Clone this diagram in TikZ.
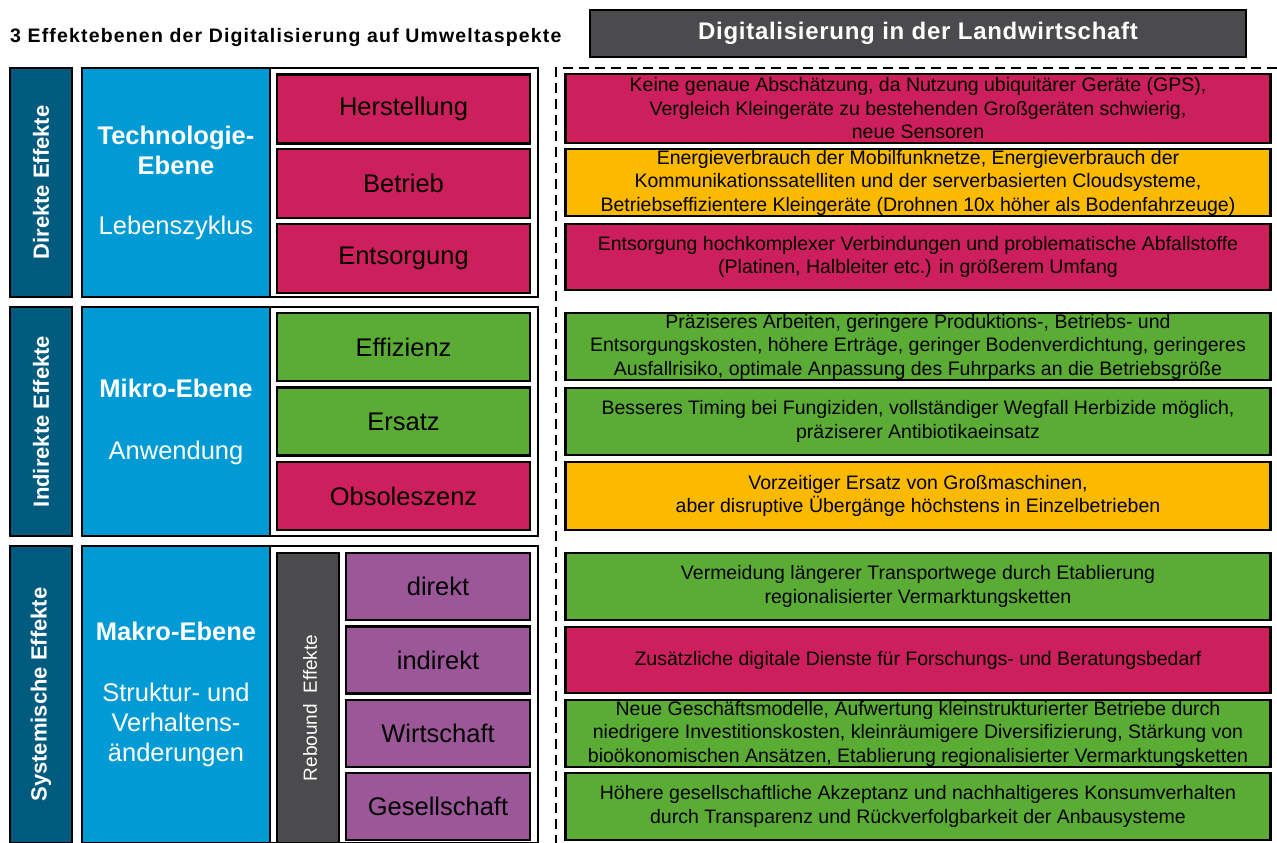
\documentclass[tikz,border=0pt]{standalone}
\usepackage{fontspec}
\setmainfont{Liberation Sans}
\definecolor{dkblue}{HTML}{005B7F}
\definecolor{ltblue}{HTML}{009BD5}
\definecolor{cred}{HTML}{CD1F5C}
\definecolor{cgreen}{HTML}{5BAC35}
\definecolor{cyellow}{HTML}{FBB900}
\definecolor{cpurple}{HTML}{9C5799}
\definecolor{cgrey}{HTML}{4B4B4D}
\begin{document}
\begin{tikzpicture}[x=1pt,y=-1pt,
  cell/.style={draw=black, line width=2.5pt, inner sep=0pt, align=center},
  frame/.style={draw=black, line width=2pt, fill=white, inner sep=0pt},
  vlabel/.style={cell, fill=dkblue, text=white, rotate=90, font=\bfseries\fontsize{22}{25}\selectfont},
  level/.style={cell, fill=ltblue, text=white, font=\fontsize{25.5}{30}\selectfont},
  item/.style={cell, font=\fontsize{25.5}{30}\selectfont},
  desc/.style={cell, minimum width=705pt, font=\fontsize{19.5}{23.5}\selectfont},
  dashline/.style={draw=black, line width=2pt, dash pattern=on 10pt off 6pt}
]
\useasboundingbox (0,0) rectangle (1277,843);
\fill[white] (0,0) rectangle (1277,843);

% title and header
\node[anchor=west, inner sep=0pt, font=\bfseries\fontsize{19.5}{22}\selectfont\addfontfeatures{LetterSpace=6}] (title) at (10,38) {3 Effektebenen der Digitalisierung auf Umweltaspekte};
\node[cell, fill=cgrey, text=white, font=\bfseries\fontsize{24}{28}\selectfont\addfontfeatures{LetterSpace=3}, minimum width=656pt, minimum height=47pt] (head) at (918,33.5) {Digitalisierung in der Landwirtschaft};

% dashed separator
\coordinate (dB) at (1277,68);
\coordinate (dA) at (556,68);
\coordinate (dC) at (556,843);
\draw[dashline] (dB) -- (dA) -- (dC);

% ---------- section 1
\node[vlabel, minimum width=229pt, minimum height=62pt] (v1) at (41,182.5) {Direkte Effekte};
\node[frame, minimum width=268pt, minimum height=229pt] (f1) at (404,182.5) {};
\node[level, minimum width=188pt, minimum height=229pt] (l1) at (176,182.5) {\textbf{Technologie-}\\\textbf{Ebene}\\[30pt]Lebenszyklus};
\node[item, fill=cred, minimum width=253pt, minimum height=69pt] (herst) at (403.5,109) {Herstellung};
\node[item, fill=cred, minimum width=253pt, minimum height=69pt] (betr) at (403.5,183.5) {Betrieb};
\node[item, fill=cred, minimum width=253pt, minimum height=69pt] (ents) at (403.5,258.5) {Entsorgung};

% ---------- section 2
\node[vlabel, minimum width=229pt, minimum height=62pt] (v2) at (41,421.5) {Indirekte Effekte};
\node[frame, minimum width=268pt, minimum height=229pt] (f2) at (404,421.5) {};
\node[level, minimum width=188pt, minimum height=229pt] (l2) at (176,421.5) {\textbf{Mikro-Ebene}\\[32pt]Anwendung};
\node[item, fill=cgreen, minimum width=253pt, minimum height=68pt] (eff) at (403.5,347) {Effizienz};
\node[item, fill=cgreen, minimum width=253pt, minimum height=68pt] (ers) at (403.5,421.5) {Ersatz};
\node[item, fill=cred, minimum width=253pt, minimum height=68pt] (obs) at (403.5,496) {Obsoleszenz};

% ---------- section 3
\node[vlabel, minimum width=297pt, minimum height=62pt] (v3) at (41,694.5) {Systemische Effekte};
\node[frame, minimum width=268pt, minimum height=297pt] (f3) at (404,694.5) {};
\node[level, minimum width=188pt, minimum height=297pt] (l3) at (176,694.5) {\textbf{Makro-Ebene}\\[31pt]Struktur- und\\Verhaltens-\\änderungen};
\node[cell, fill=cgrey, text=white, rotate=90, font=\fontsize{19}{22}\selectfont, minimum width=290pt, minimum height=62pt] (reb) at (308,698) {};
\node[rotate=90, text=white, font=\fontsize{19}{22}\selectfont] (rebt) at (310,708) {Rebound\ \ Effekte};
\node[item, fill=cpurple, minimum width=184pt, minimum height=67pt] (dir) at (438,586.5) {direkt};
\node[item, fill=cpurple, minimum width=184pt, minimum height=67pt] (ind) at (438,660) {indirekt};
\node[item, fill=cpurple, minimum width=184pt, minimum height=67pt] (wirt) at (438,733.5) {Wirtschaft};
\node[item, fill=cpurple, minimum width=184pt, minimum height=67pt] (ges) at (438,806.5) {Gesellschaft};

% ---------- right column descriptions
\node[desc, fill=cred, minimum height=69pt] (r1) at (918,108.5) {Keine genaue Abschätzung, da Nutzung ubiquitärer Geräte (GPS),\\Vergleich Kleingeräte zu bestehenden Großgeräten schwierig,\\neue Sensoren};
\node[desc, fill=cyellow, minimum height=67pt] (r2) at (918,182.5) {Energieverbrauch der Mobilfunknetze, Energieverbrauch der\\Kommunikationssatelliten und der serverbasierten Cloudsysteme,\\Betriebseffizientere Kleingeräte (Drohnen 10x höher als Bodenfahrzeuge)};
\node[desc, fill=cred, minimum height=66pt] (r3) at (918,257) {Entsorgung hochkomplexer Verbindungen und problematische Abfallstoffe\\(Platinen, Halbleiter etc.) in größerem Umfang};
\node[desc, fill=cgreen, minimum height=67pt] (r4) at (918,346.5) {Präziseres Arbeiten, geringere Produktions-, Betriebs- und\\Entsorgungskosten, höhere Erträge, geringer Bodenverdichtung, geringeres\\Ausfallrisiko, optimale Anpassung des Fuhrparks an die Betriebsgröße};
\node[desc, fill=cgreen, minimum height=67pt] (r5) at (918,421.5) {Besseres Timing bei Fungiziden, vollständiger Wegfall Herbizide möglich,\\präziserer Antibiotikaeinsatz};
\node[desc, fill=cyellow, minimum height=68pt] (r6) at (918,496) {Vorzeitiger Ersatz von Großmaschinen,\\aber disruptive Übergänge höchstens in Einzelbetrieben};
\node[desc, fill=cgreen, minimum height=67pt] (r7) at (918,586.5) {Vermeidung längerer Transportwege durch Etablierung\\regionalisierter Vermarktungsketten};
\node[desc, fill=cred, minimum height=66pt] (r8) at (918,660) {Zusätzliche digitale Dienste für Forschungs- und Beratungsbedarf};
\node[desc, fill=cgreen, minimum height=67pt] (r9) at (918,733.5) {Neue Geschäftsmodelle, Aufwertung kleinstrukturierter Betriebe durch\\niedrigere Investitionskosten, kleinräumigere Diversifizierung, Stärkung von\\bioökonomischen Ansätzen, Etablierung regionalisierter Vermarktungsketten};
\node[desc, fill=cgreen, minimum height=67pt] (r10) at (918,806.5) {Höhere gesellschaftliche Akzeptanz und nachhaltigeres Konsumverhalten\\durch Transparenz und Rückverfolgbarkeit der Anbausysteme};
\end{tikzpicture}
\end{document}
